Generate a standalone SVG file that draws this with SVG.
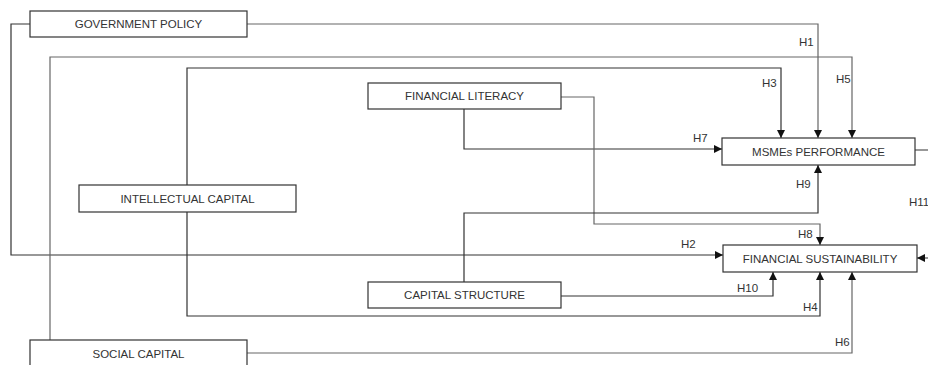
<svg xmlns="http://www.w3.org/2000/svg" width="928" height="365" viewBox="0 0 928 365">
<style>
.box{fill:#fff;stroke:#333;stroke-width:1.2}
.t{font-family:"Liberation Sans",Arial,sans-serif;font-size:11.5px;fill:#333;text-anchor:middle}
.l{font-family:"Liberation Sans",Arial,sans-serif;font-size:11.5px;fill:#333}
.c{fill:none;stroke:#333;stroke-width:1.2}
.g{stroke:#666}
</style>
<defs>
<marker id="ah" viewBox="0 0 10 10" refX="10" refY="5" markerWidth="8" markerHeight="8" markerUnits="userSpaceOnUse" orient="auto">
<path d="M0,0 L10,5 L0,10 z" fill="#111"/>
</marker>
</defs>
<rect width="928" height="365" fill="#fff"/>
<g id="connectors">
<path class="c g" d="M247,24 H818 V138" marker-end="url(#ah)"/>
<path class="c" d="M30,24 H11 V255 H723" marker-end="url(#ah)"/>
<path class="c" d="M187,185 V68 H781 V138" marker-end="url(#ah)"/>
<path class="c" d="M187,212 V316 H820 V272" marker-end="url(#ah)"/>
<path class="c g" d="M50,340 V57 H852 V138" marker-end="url(#ah)"/>
<path class="c g" d="M247,353 H852 V272" marker-end="url(#ah)"/>
<path class="c" d="M464,109 V149 H722" marker-end="url(#ah)"/>
<path class="c g" d="M561,97 H594 V224 H820 V245" marker-end="url(#ah)"/>
<path class="c" d="M464,282 V213 H818 V165" marker-end="url(#ah)"/>
<path class="c" d="M561,296 H773 V272" marker-end="url(#ah)"/>
<path class="c" d="M915,150 H940 V258 H917" marker-end="url(#ah)"/>
<text class="l" x="799" y="46">H1</text>
<text class="l" x="681" y="248">H2</text>
<text class="l" x="762" y="87">H3</text>
<text class="l" x="803" y="311">H4</text>
<text class="l" x="836" y="83">H5</text>
<text class="l" x="835" y="346">H6</text>
<text class="l" x="693" y="142">H7</text>
<text class="l" x="798" y="238">H8</text>
<text class="l" x="796" y="188">H9</text>
<text class="l" x="737" y="292">H10</text>
<text class="l" x="909" y="206">H11</text>
</g>
<g id="government-policy">
<rect class="box" x="30" y="11" width="217" height="26"/>
<text class="t" x="138.5" y="28">GOVERNMENT POLICY</text>
</g>
<g id="financial-literacy">
<rect class="box" x="368" y="83" width="193" height="26"/>
<text class="t" x="464.5" y="100">FINANCIAL LITERACY</text>
</g>
<g id="intellectual-capital">
<rect class="box" x="79" y="185" width="217" height="27"/>
<text class="t" x="187.5" y="202.5">INTELLECTUAL CAPITAL</text>
</g>
<g id="capital-structure">
<rect class="box" x="368" y="282" width="193" height="26"/>
<text class="t" x="464.5" y="299">CAPITAL STRUCTURE</text>
</g>
<g id="social-capital">
<rect class="box" x="30" y="340" width="217" height="30"/>
<text class="t" x="138.5" y="358">SOCIAL CAPITAL</text>
</g>
<g id="msmes-performance">
<rect class="box" x="722" y="138" width="193" height="27"/>
<text class="t" x="818.5" y="155.5">MSMEs PERFORMANCE</text>
</g>
<g id="financial-sustainability">
<rect class="box" x="723" y="245" width="194" height="27"/>
<text class="t" x="820" y="262.5">FINANCIAL SUSTAINABILITY</text>
</g>
</svg>
